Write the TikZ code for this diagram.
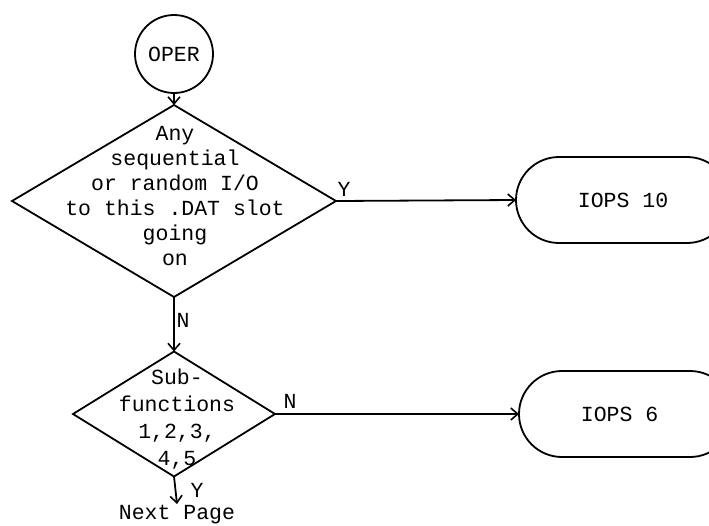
\documentclass[tikz,border=0pt]{standalone}
\usepackage{fontspec}
\setmainfont{Liberation Mono}
\usetikzlibrary{shapes.geometric,shapes.misc,arrows.meta}
\begin{document}
\begin{tikzpicture}[x=1pt,y=-1pt,
  line width=1.8pt,
  every node/.style={font=\fontsize{21.5}{25}\selectfont},
  decision/.style={shape=diamond,draw,inner sep=0pt,outer sep=0pt},
  terminal/.style={shape=rounded rectangle,draw,minimum width=214pt,minimum height=86pt,inner sep=0pt,outer sep=0pt},
  connector/.style={shape=circle,draw,minimum size=78pt,inner sep=0pt,outer sep=0pt},
  txt/.style={align=center,inner sep=0pt},
  lbl/.style={inner sep=0pt},
  flow/.style={-{Straight Barb[length=7pt,width=12pt,line width=1.6pt]}}
]
\useasboundingbox (0,0) rectangle (709,525);

\node[connector] (oper) at (174,54) {OPER};

\node[decision,minimum width=324pt,minimum height=192pt] (d1) at (174,201) {};
\node[txt,font=\fontsize{21.5}{25}\selectfont] (t1) at (175,196)
  {Any\\sequential\\or random I/O\\to this .DAT slot\\going\\on};

\node[decision,minimum width=202pt,minimum height=125pt] (d2) at (174,414) {};
\node[txt,font=\fontsize{21.5}{27}\selectfont] (t2) at (177,419)
  {Sub-\\functions\\1,2,3,\\4,5};

\node[terminal] (b1) at (623,200) {IOPS 10};
\node[terminal] (b2) at (626,414) {IOPS 6\hphantom{0}};

\node[lbl,anchor=north] (next) at (177,504) {Next Page};

\draw[flow] (oper) -- (d1.north);
\draw[flow] (d1.east) -- (b1.west);
\draw[flow] (d1.south) -- (d2.north);
\draw[flow] (d2.east) -- (b2.west);
\draw[flow] (d2.south) -- (next.north);

\node[lbl] (ly1) at (344,189) {Y};
\node[lbl] (ln1) at (183,320) {N};
\node[lbl] (ln2) at (290,401) {N};
\node[lbl] (ly2) at (197,490) {Y};
\end{tikzpicture}
\end{document}
